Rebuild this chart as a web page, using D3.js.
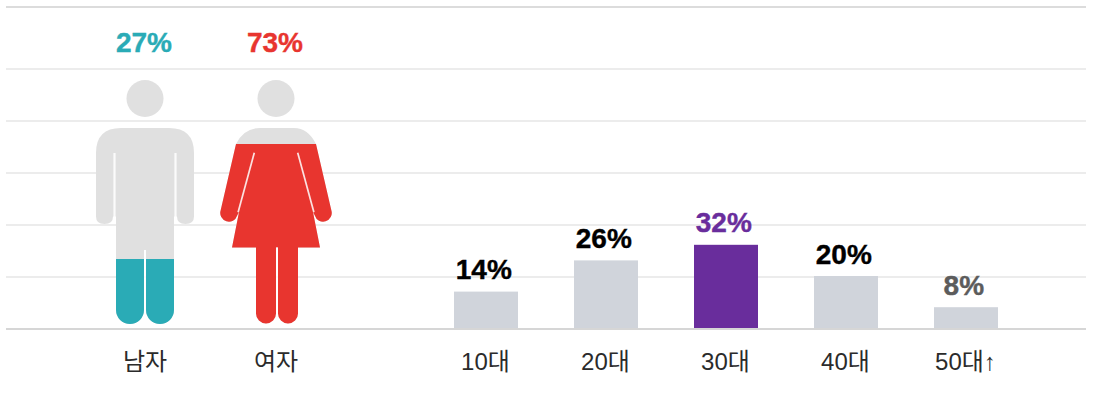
<!DOCTYPE html>
<html><head><meta charset="utf-8">
<script src="https://cdn.jsdelivr.net/npm/d3@7"></script>
<style>
html,body{margin:0;padding:0;background:#fff}
svg{display:block}
text{font-family:"Liberation Sans","Noto Sans CJK KR",sans-serif}
</style></head><body>
<svg id="c" width="1100" height="402"></svg>
<script>
const genders = ["남자", "여자"];
const genderValues = [27, 73];
const genderColors = ["#2aabb6", "#e8352f"];
const ages = ["10대", "20대", "30대", "40대", "50대↑"];
const ageValues = [14, 26, 32, 20, 8];
const ageBarColors = ["#d0d4db", "#d0d4db", "#692d9c", "#d0d4db", "#d0d4db"];
const ageLabelColors = ["#000000", "#000000", "#692d9c", "#000000", "#5c5c5c"];
const gridTicks = [0, 20, 40, 60, 80, 100];

// Pictogram glyphs, in local coordinates (x from the figure's centre, y from its 100% level)
const manBody = "M-24,51.5H24Q49,51.5 49,76.5V140Q49,147.5 40.5,147.5Q32,147.5 32,140H29V233.5A14,14 0 0 1 1,233.5V173.5H-1V233.5A14,14 0 0 1 -29,233.5V140H-32Q-32,147.5 -40.5,147.5Q-49,147.5 -49,140V76.5Q-49,51.5 -24,51.5Z";
const manGaps = [[-30.5,76.5,-30.5,147.5,2.2],[30.5,76.5,30.5,147.5,2.2],[0,173.5,0,247.5,2]];
const womanBody = "M-16,51.5H18Q32,51.5 40,67.5L55.4,134A8.5,8.5 0 0 1 38.8,139L37,135.5L44,171H22V237A10,10 0 0 1 2,237V171H0V237A10,10 0 0 1 -20,237V171H-44L-37,135.5L-38.8,139A8.5,8.5 0 0 1 -55.4,134L-40,67.5Q-32,51.5 -16,51.5Z";
const womanGaps = [[-21.7,76.2,-37.9,135.8,1.7],[21.7,76.2,37.9,135.8,1.7],[1,171,1,247,1.8]];
const headY = 22, headR = 18.5;
const figures = [{body: manBody, gaps: manGaps}, {body: womanBody, gaps: womanGaps}];

const svg = d3.select("#c");
const y = d3.scaleLinear().domain([0, 100]).range([328, 68]);
const figureY = d3.scaleLinear().domain([0, 100]).range([326.5, 76.5]);
const xGender = d3.scalePoint().domain(genders).range([145, 276]);
const xAge = d3.scaleBand().domain(ages).range([426, 1026]).paddingInner(0.4667).paddingOuter(0.2333);

// top rule
svg.append("line").attr("x1", 6).attr("x2", 1086).attr("y1", 7).attr("y2", 7)
  .attr("stroke", "#dcdcdc").attr("stroke-width", 2);

// grid
const grid = svg.append("g").attr("transform", "translate(6,0)")
  .call(d3.axisLeft(y).tickValues(gridTicks).tickSize(-1080).tickFormat("").offset(1));
grid.select(".domain").remove();
grid.selectAll(".tick line")
  .attr("stroke", d => d === 0 ? "#d6d6d6" : "#ececec")
  .attr("stroke-width", 2);

// figures
const defs = svg.append("defs");
genders.forEach((g, i) => {
  const cx = xGender(g), top = figureY(100);
  const fig = svg.append("g").attr("transform", `translate(${cx},${top})`);
  const f = figures[i];
  const id = "fill" + i;
  defs.append("clipPath").attr("id", id).append("rect")
    .attr("x", -70).attr("width", 140)
    .attr("y", figureY(genderValues[i]) - top)
    .attr("height", figureY(0) - figureY(genderValues[i]) + 2);
  fig.append("circle").attr("cy", headY).attr("r", headR).attr("fill", "#e0e0e0");
  fig.append("path").attr("d", f.body).attr("fill", "#e0e0e0");
  fig.append("path").attr("d", f.body).attr("fill", genderColors[i]).attr("clip-path", `url(#${id})`);
  fig.selectAll("line.gap").data(f.gaps).join("line").attr("class", "gap")
    .attr("x1", d => d[0]).attr("y1", d => d[1]).attr("x2", d => d[2]).attr("y2", d => d[3])
    .attr("stroke", "#fff").attr("stroke-opacity", 0.85).attr("stroke-width", d => d[4]);
});

// gender labels
svg.selectAll("text.gv").data(genders).join("text").attr("class", "gv")
  .attr("x", d => xGender(d) - 1).attr("y", 52).attr("text-anchor", "middle")
  .attr("font-size", 28).attr("font-weight", 700)
  .attr("fill", (d, i) => genderColors[i])
  .attr("stroke", (d, i) => genderColors[i]).attr("stroke-width", 0.4)
  .text((d, i) => genderValues[i] + "%");

// age bars
svg.selectAll("rect.bar").data(ages).join("rect").attr("class", "bar")
  .attr("x", d => xAge(d)).attr("width", xAge.bandwidth())
  .attr("y", (d, i) => y(ageValues[i]))
  .attr("height", (d, i) => y(0) - y(ageValues[i]))
  .attr("fill", (d, i) => ageBarColors[i]);

svg.selectAll("text.av").data(ages).join("text").attr("class", "av")
  .attr("x", d => xAge(d) + xAge.bandwidth() / 2 - 2.2)
  .attr("y", (d, i) => y(ageValues[i]) - 12.5)
  .attr("text-anchor", "middle").attr("font-size", 28).attr("font-weight", 700)
  .attr("fill", (d, i) => ageLabelColors[i])
  .attr("stroke", (d, i) => ageLabelColors[i]).attr("stroke-width", 0.4)
  .text((d, i) => ageValues[i] + "%");

// category axes
function catAxis(scale) {
  const a = svg.append("g").attr("transform", "translate(0,329)")
    .call(d3.axisBottom(scale).tickSize(0).tickPadding(0));
  a.select(".domain").remove();
  a.selectAll("text").attr("dy", null).attr("y", 41).attr("dx", -0.5)
    .attr("font-size", 24).attr("fill", "#2b2b2b")
    .style("font-family", '"Liberation Sans","Noto Sans CJK KR",sans-serif');
}
catAxis(xGender);
catAxis(xAge);
</script>
</body></html>
